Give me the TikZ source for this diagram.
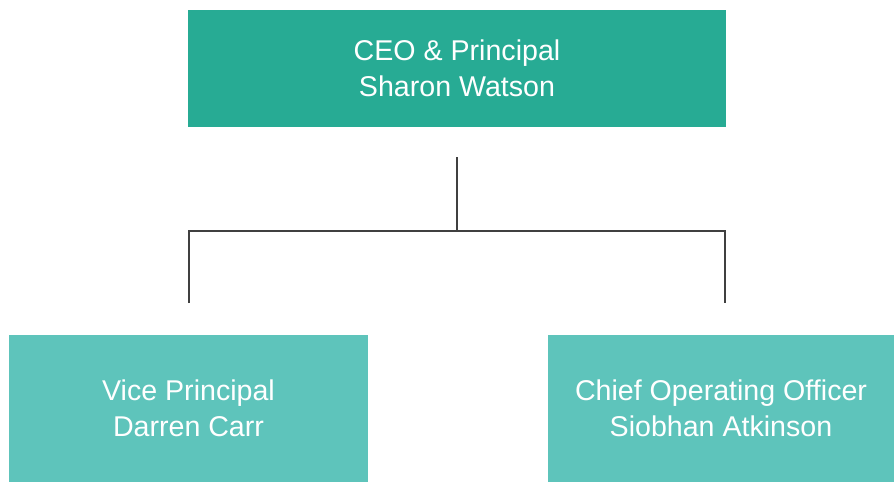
\documentclass[tikz,border=0pt]{standalone}
\usepackage{fontspec}
\setmainfont{Liberation Sans}
\definecolor{topteal}{HTML}{27AB94}
\definecolor{subteal}{HTML}{5EC4BB}
\definecolor{linegray}{HTML}{404040}
\begin{document}
\begin{tikzpicture}[x=1pt,y=-1pt,
  box/.style={draw=none,inner sep=0pt,outer sep=0pt,text=white,align=center,
    font=\fontsize{28.6}{36}\selectfont},
  conn/.style={draw=linegray,line width=2.7pt}]
\useasboundingbox (0,0) rectangle (894,482);
\fill[white] (0,0) rectangle (894,482);
\node[box,fill=topteal,minimum width=538pt,minimum height=117pt] (ceo) at (457,68.5) {CEO \& Principal\\Sharon Watson};
\node[box,fill=subteal,minimum width=359pt,minimum height=147pt] (vp) at (188.5,408.5) {Vice Principal\\Darren Carr};
\node[box,fill=subteal,minimum width=346pt,minimum height=147pt] (coo) at (721,408.5) {Chief Operating Officer\\Siobhan Atkinson};
\coordinate (top) at (457,157);
\coordinate (mid) at (457,231);
\coordinate (lc) at (189,231);
\coordinate (rc) at (725,231);
\coordinate (lend) at (189,303);
\coordinate (rend) at (725,303);
\draw[conn] (top) -- (mid);
\draw[conn] (lend) -- (lc) -- (rc) -- (rend);
\end{tikzpicture}
\end{document}
